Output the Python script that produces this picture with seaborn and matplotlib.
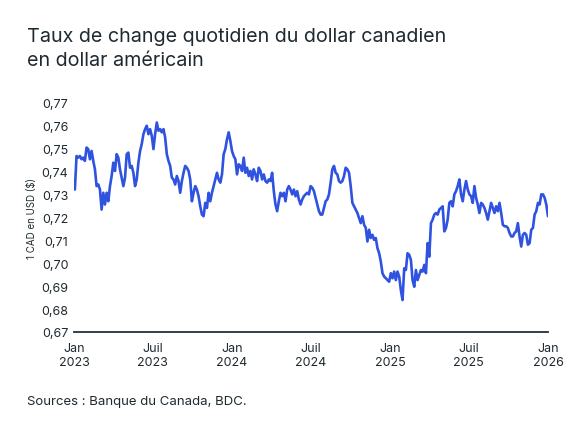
import seaborn as sns
import matplotlib.pyplot as plt
import matplotlib.dates as mdates
import pandas as pd
import numpy as np

# daily CAD/USD (about every 4 days)
rate_2023_2024 = [
    0.7320, 0.7466, 0.7459, 0.7466, 0.7452, 0.7459, 0.7445, 0.7503, 0.7496, 0.7452,
    0.7488, 0.7445, 0.7408, 0.7335, 0.7342, 0.7320, 0.7233, 0.7306, 0.7255, 0.7306,
    0.7269, 0.7335, 0.7379, 0.7437, 0.7401, 0.7474, 0.7459, 0.7408, 0.7372, 0.7335,
    0.7372, 0.7474, 0.7481, 0.7415, 0.7423, 0.7393, 0.7335, 0.7364, 0.7437, 0.7488,
    0.7518, 0.7561, 0.7583, 0.7598, 0.7561, 0.7583, 0.7554, 0.7496, 0.7561, 0.7612,
    0.7576, 0.7583, 0.7569, 0.7583, 0.7547, 0.7474, 0.7445, 0.7423, 0.7372, 0.7364,
    0.7342, 0.7379, 0.7357, 0.7306, 0.7357, 0.7393, 0.7423, 0.7415, 0.7401, 0.7364,
    0.7269, 0.7306, 0.7335, 0.7320, 0.7291, 0.7247, 0.7211, 0.7204, 0.7262, 0.7240,
    0.7306, 0.7269, 0.7306, 0.7335, 0.7364, 0.7393, 0.7364, 0.7350, 0.7386, 0.7474,
    0.7496, 0.7539, 0.7569, 0.7532, 0.7488, 0.7466, 0.7452, 0.7386, 0.7430, 0.7423,
    0.7401, 0.7459, 0.7393, 0.7415, 0.7379, 0.7401, 0.7364, 0.7408, 0.7386, 0.7357,
    0.7415, 0.7401, 0.7364, 0.7386, 0.7357, 0.7350, 0.7364, 0.7357, 0.7393, 0.7313,
    0.7255, 0.7226, 0.7269,
]
rate_2024_2026 = [
    0.7306, 0.7291, 0.7306, 0.7269, 0.7320, 0.7335, 0.7320, 0.7299, 0.7320, 0.7291,
    0.7313, 0.7277, 0.7255, 0.7277, 0.7291, 0.7299, 0.7306, 0.7299, 0.7335, 0.7328,
    0.7313, 0.7284, 0.7255, 0.7226, 0.7211, 0.7211, 0.7240, 0.7269, 0.7277, 0.7299,
    0.7350, 0.7408, 0.7423, 0.7393, 0.7386, 0.7357, 0.7350, 0.7357, 0.7379, 0.7415,
    0.7408, 0.7393, 0.7335, 0.7262, 0.7247, 0.7233, 0.7218, 0.7196, 0.7174, 0.7204,
    0.7167, 0.7153, 0.7094, 0.7145, 0.7109, 0.7123, 0.7101, 0.7109, 0.7065, 0.7043,
    0.7007, 0.6956, 0.6941, 0.6934, 0.6926, 0.6919, 0.6956, 0.6934, 0.6963, 0.6926,
    0.6963, 0.6941, 0.6882, 0.6839, 0.6977, 0.6970, 0.7043, 0.7036, 0.7014, 0.6926,
    0.6897, 0.6970, 0.6926, 0.6948, 0.6970, 0.6963, 0.6992, 0.6956, 0.7087, 0.7028,
    0.7174, 0.7189, 0.7211, 0.7218, 0.7211, 0.7233, 0.7240, 0.7247, 0.7138, 0.7153,
    0.7189, 0.7262, 0.7269, 0.7247, 0.7299, 0.7313, 0.7335, 0.7364, 0.7299, 0.7269,
    0.7320, 0.7357, 0.7320, 0.7299, 0.7291, 0.7262, 0.7335, 0.7284, 0.7255, 0.7218,
    0.7262, 0.7255, 0.7240, 0.7218, 0.7189, 0.7226, 0.7262, 0.7240, 0.7218, 0.7247,
    0.7226, 0.7262, 0.7218, 0.7167, 0.7160, 0.7160, 0.7153, 0.7131, 0.7116, 0.7116,
    0.7131, 0.7138, 0.7174, 0.7116, 0.7072, 0.7123, 0.7131, 0.7123, 0.7080, 0.7087,
    0.7145, 0.7153, 0.7211, 0.7226, 0.7262, 0.7255, 0.7299, 0.7299, 0.7284, 0.7255,
    0.7204,
]
first_day = "2023-01-03"
last_day = "2026-01-01"

y_ticks = [0.67, 0.68, 0.69, 0.70, 0.71, 0.72, 0.73, 0.74, 0.75, 0.76, 0.77]
x_ticks = ["2023-01-01", "2023-07-01", "2024-01-01", "2024-07-01",
           "2025-01-01", "2025-07-01", "2026-01-01"]
x_labels = ["Jan\n2023", "Juil\n2023", "Jan\n2024", "Juil\n2024",
            "Jan\n2025", "Juil\n2025", "Jan\n2026"]

title = "Taux de change quotidien du dollar canadien\nen dollar américain"
source = "Sources : Banque du Canada, BDC."

rates = rate_2023_2024 + rate_2024_2026
df = pd.DataFrame({
    "date": pd.date_range(first_day, last_day, periods=len(rates)),
    "taux": rates,
})

sns.set_style("white")
plt.rcParams["font.family"] = ["Inter", "DejaVu Sans"]

text_col = "#1f2a30"
axis_col = "#1e3040"

fig = plt.figure(figsize=(5.75, 4.31), dpi=100)
ax = fig.add_axes([0.1287, 0.2274, 0.8243, 0.533])

sns.lineplot(data=df, x="date", y="taux", ax=ax, color="#2f52e0", linewidth=1.9)

ax.set_ylim(0.67, 0.77)
ax.set_xlim(pd.Timestamp("2023-01-01"), pd.Timestamp("2026-01-01"))
ax.set_yticks(y_ticks)
ax.set_yticklabels([f"{v:.2f}".replace(".", ",") for v in y_ticks])
ax.set_xticks([mdates.date2num(pd.Timestamp(d)) for d in x_ticks])
ax.set_xticklabels(x_labels, linespacing=1.2)

for side in ["top", "right", "left"]:
    ax.spines[side].set_visible(False)
ax.spines["bottom"].set_color(axis_col)
ax.spines["bottom"].set_linewidth(1.3)

ax.tick_params(axis="x", direction="in", length=3, width=1, color=axis_col,
               labelsize=9, labelcolor=text_col, pad=7.5)
ax.tick_params(axis="y", length=0, labelsize=9, labelcolor=text_col, pad=4)

ax.set_xlabel("")
ax.set_ylabel("1 CAD en USD ($)", fontsize=7, color=text_col, labelpad=3)

fig.text(0.047, 0.935, title, fontsize=14.2, color=text_col, va="top",
         ha="left", linespacing=1.45)
fig.text(0.047, 0.06, source, fontsize=9.5, color=text_col, ha="left")

plt.savefig("out.png", dpi=100)
plt.close()
